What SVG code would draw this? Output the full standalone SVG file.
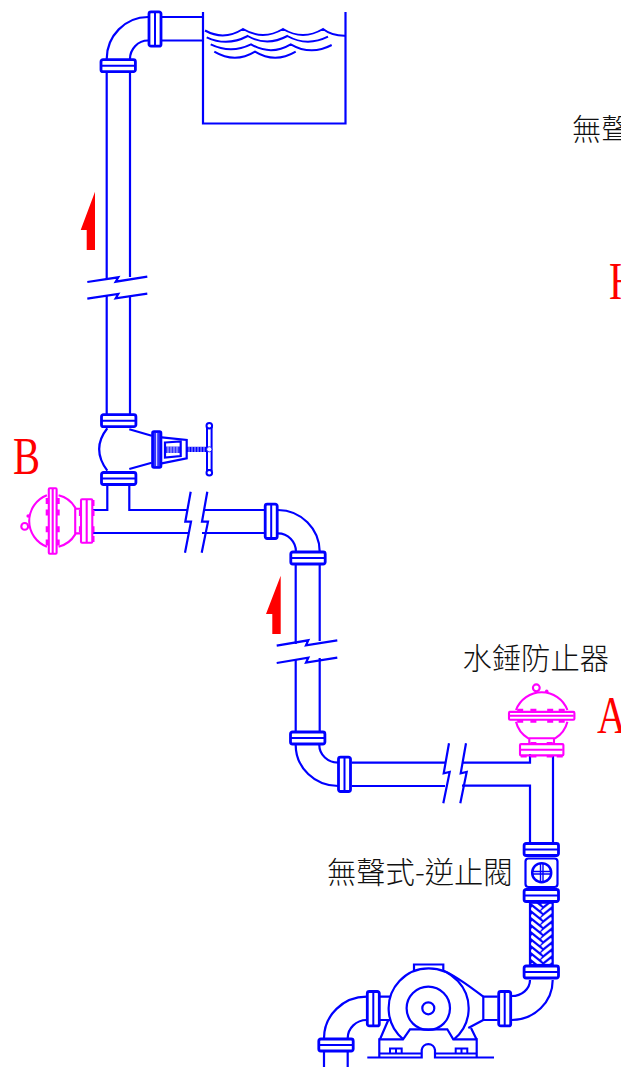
<svg xmlns="http://www.w3.org/2000/svg" xmlns:xlink="http://www.w3.org/1999/xlink" width="621" height="1068" viewBox="0 0 621 1068">
<style>
.p{fill:none;stroke:#0000ff;stroke-width:2.2}
.pt{fill:none;stroke:#0000ff;stroke-width:2}
.m{fill:none;stroke:#ff00ff;stroke-width:2.1}
.mf{fill:#ff00ff}
.arrow{fill:#ff0000}
.cjk{font-family:"Noto Sans CJK TC","Noto Sans CJK SC",sans-serif;font-size:29.3px;font-weight:300;fill:#111}
.ltr{font-family:"Liberation Serif",serif;font-size:52px;fill:#ff0000}
</style>
<defs>
<g id="fl">
<rect x="-17.200" y="-6" width="34.400" height="12" rx="2" fill="#fff" stroke="#0000ff" stroke-width="2.800"/>
<line x1="-17" x2="17" y1="0" y2="0" stroke="#0000ff" stroke-width="2"/>
</g>
<g id="device">
<path class="m" d="M-25.700-5.800A27.500 27.500 0 0 1 25.700-5.800M-25.700 5.900A26.500 26.500 0 0 0-13.400 22.500H13.400A26.500 26.500 0 0 0 25.700 5.900M-12.400 22.500V28M12.300 22.500V28"/>
<circle class="m" cx="-5.400" cy="-28" r="3.400"/>
<circle class="mf" cx="5" cy="-24.500" r="1.800"/>
<path class="mf" d="M-24.500-7h6v3h-6zM-11.300-7h6v3h-6zM5.500-7h6v3h-6zM17-7h6v3h-6zM-24.500 4h6v3h-6zM-11.300 4h6v3h-6zM5.500 4h6v3h-6zM17 4h6v3h-6z"/>
<rect class="m" x="-32.700" y="-3.900" width="65.400" height="7.800" rx="1"/>
<line class="m" x1="-32" x2="32" y1="0" y2="0"/>
<path class="mf" d="M-11.300 26.200h6v2.500h-6zM5 26.200h6v2.500h-6zM-21 39.300h6v2.500h-6zM-11.300 39.300h6v2.500h-6zM5 39.300h6v2.500h-6zM15 39.300h6v2.500h-6z"/>
<rect class="m" x="-21.700" y="28.300" width="43.400" height="11.300" rx="1"/>
<line class="m" x1="-21" x2="21" y1="34" y2="34"/>
</g>
<pattern id="braid" patternUnits="userSpaceOnUse" x="530" y="902" width="22.700" height="14">
<rect width="22.700" height="14" fill="#0000ff"/>
<path d="M1-8L11 0M1-1L11 7M1 6L11 14M1 13L11 21M12 3L22-5M12 10L22 2M12 17L22 9M12 24L22 16" stroke="#fff" stroke-width="3.300" fill="none"/>
</pattern>
</defs>

<g id="connectors">
<path class="p" d="M162 17H203M162 40.500H203"/>
<path class="p" d="M148 17A41.500 42 0 0 0 106.700 59M148 40.500A18 18.500 0 0 0 130 59"/>
<path class="p" d="M106.700 72V280M130 72V277M106.700 296V414M130 296V414"/>
<path class="p" d="M87.300 282L118.300 277.300L115.700 281.700L147.300 276.700M87.300 298.700L118.300 294L115.700 298.300L147.300 293.700"/>
<path class="p" d="M107.300 485V510H92M129.300 485V510H187M92 533H189M204 510H264M202 533H264"/>
<path class="p" d="M190.700 491.700L185.300 521.700H191L185 552.700M207.300 491.700L202 521.700H208L201.700 552.700"/>
<path class="p" d="M278 510A42 42 0 0 1 319.700 551.700M278 533.300A18 18.500 0 0 1 296 551.700"/>
<path class="p" d="M295.700 565V644M319.700 565V641M295.700 660V731M319.700 658V731"/>
<path class="p" d="M276.700 645.700L308.300 640.300L306 645.300L337.300 640.300M276.700 663L308.300 657.700L306 662.700L337.300 657.700"/>
<path class="p" d="M295.700 745A42.600 41 0 0 0 338.300 786M319.300 745A19 17.700 0 0 0 338.300 762.700"/>
<path class="p" d="M351.700 762.700H446M351.700 786H445M463 762.700H530V754M462 785.700H530V843M553 755V843"/>
<path class="p" d="M449 743.300L443.700 773.300L449.700 772L443.300 803.300M466 743.300L460.700 773.300L466.700 772L460.300 803.300"/>
<path class="p" d="M552.700 980A41 40 0 0 1 511.700 1020M530 980A18.300 16 0 0 1 511.700 996"/>
<path class="p" d="M366.700 996.700A42.700 41.600 0 0 0 324 1038.300M366.700 1020A19 18.300 0 0 0 347.700 1038.300"/>
<path class="p" d="M324 1051V1067M347.700 1051V1067"/>
</g>

<g id="tank">
<path class="p" d="M203 12V123.500H345.500V12"/>
<path class="pt" d="M205 30.500Q224 41 243 29Q263 41 283 29Q303 41 323 29Q332 36 345.500 35.700M206.700 37.300Q227 47 247.700 36Q267 47 287.300 36Q307 47 328 36.700M210.700 44.300Q231 54 251 44.300Q271 56 290.700 44.300Q311 56 331.700 45M214.300 51.700Q235 64 255 51.700Q275 64 295.700 51.700"/>
</g>

<g id="flanges">
<use xlink:href="#fl" href="#fl" transform="translate(155 29) rotate(90)"/>
<use xlink:href="#fl" href="#fl" transform="translate(118.200 65.700)"/>
<use xlink:href="#fl" href="#fl" transform="translate(118.700 420.700)"/>
<use xlink:href="#fl" href="#fl" transform="translate(118.700 478.500)"/>
<use xlink:href="#fl" href="#fl" transform="translate(271.200 521.300) rotate(90)"/>
<use xlink:href="#fl" href="#fl" transform="translate(308 558)"/>
<use xlink:href="#fl" href="#fl" transform="translate(307.700 738)"/>
<use xlink:href="#fl" href="#fl" transform="translate(344.500 774.300) rotate(90)"/>
<use xlink:href="#fl" href="#fl" transform="translate(541.300 849.500)"/>
<use xlink:href="#fl" href="#fl" transform="translate(541.300 895.500)"/>
<use xlink:href="#fl" href="#fl" transform="translate(541.300 972)"/>
<use xlink:href="#fl" href="#fl" transform="translate(504.700 1008.700) rotate(90)"/>
<use xlink:href="#fl" href="#fl" transform="translate(373.300 1008.700) rotate(90)"/>
<use xlink:href="#fl" href="#fl" transform="translate(336 1045)"/>
</g>

<g id="gate-valve">
<path class="p" d="M107.300 428.300Q91 449 107.300 470.700M129.300 429.300L151.700 435.700M129.300 469L151.700 462.700"/>
<path class="p" d="M161.700 437.300L186.700 440V458.300L161.700 463.300"/>
<rect x="152.500" y="431.500" width="8.500" height="36" rx="1.500" fill="#3333ff" stroke="#0000ff" stroke-width="2.600"/>
<line x1="156.700" x2="156.700" y1="433" y2="466" stroke="#ffffff" stroke-width="1"/>
<path fill="none" stroke="#0000ff" stroke-width="2.200" d="M165 442.500L180.700 441.500V456L165 457.500Z"/>
<rect x="166" y="446.500" width="14" height="6.500" fill="#0000ff" opacity=".8"/>
<rect x="187" y="446.800" width="20" height="5.200" fill="#0000ff"/>
<path stroke="#fff" stroke-width=".7" d="M189 447v5M192 447v5M195 447v5M198 447v5M201 447v5M204 447v5"/>
<path stroke="#fff" stroke-width=".7" d="M168 446.500v6.500M171 446.500v6.500M174 446.500v6.500M177 446.500v6.500"/>
<rect x="207" y="427" width="4.600" height="43" fill="#fff" stroke="#0000ff" stroke-width="2"/>
<circle cx="209.300" cy="425.700" r="2.800" fill="#fff" stroke="#0000ff" stroke-width="2"/>
<circle cx="209.300" cy="472.700" r="2.800" fill="#fff" stroke="#0000ff" stroke-width="2"/>
<circle cx="209.300" cy="449.300" r="2.600" fill="#fff" stroke="#0000ff" stroke-width=".8"/>
</g>

<g id="arrestor-b">
<use xlink:href="#device" href="#device" transform="translate(52.700 521) rotate(-90)"/>
</g>
<g id="arrestor-a">
<use xlink:href="#device" href="#device" transform="translate(541.700 715.800)"/>
</g>

<g id="check-valve">
<rect class="p" x="525.500" y="858.500" width="32" height="28.500" rx="3"/>
<circle cx="541.700" cy="872.700" r="9.500" fill="none" stroke="#0000ff" stroke-width="2.500"/>
<path stroke="#0000ff" stroke-width="1.400" d="M532.500 871.500H551M532.500 874H551M540.500 863.500V882M543 863.500V882"/>
</g>

<g id="hose">
<rect x="530" y="902.700" width="22.700" height="62.300" fill="url(#braid)" stroke="#0000ff" stroke-width="2.200"/>
</g>

<g id="pump">
<path class="p" d="M497.700 996.700H483.300V1020H497.700M380 996.700H390M380 1020H390"/>
<path class="p" d="M414 970.700V964.500H443.300V970.700"/>
<path class="p" d="M403.300 1039.300A40 40 0 1 1 454 1039.300"/>
<path class="p" d="M443.300 970.700Q455 975 483.300 996.700M483.300 1020L468.300 1028"/>
<circle class="p" cx="428.300" cy="1008.300" r="21.700"/>
<circle class="p" cx="428.300" cy="1008.300" r="6"/>
<path class="p" d="M388.300 1020L380 1039.300M471 1028L476.500 1039.300"/>
<path class="p" d="M379.300 1057.700V1039.300H403L410 1029.300H447.300L453.300 1039.300H476.700V1057.700"/>
<path class="p" d="M367.300 1057.500H421.700V1050A6.700 6.700 0 0 1 435 1050V1057.500H494M379.300 1053.500H421.700M435 1053.500H476.700"/>
<path class="pt" d="M390 1053.300V1048.500H401.700V1053.300M396 1048.500V1053.300M455.700 1053.300V1048.500H467.300V1053.300M461.500 1048.500V1053.300"/>
</g>

<g id="arrows">
<polygon class="arrow" points="95,191.700 80.700,230 86.700,230 86.700,250 95,250"/>
<polygon class="arrow" points="280.700,575.700 266,614 272.300,614 272.300,634 280.700,634"/>
</g>

<g id="labels">
<text class="cjk" x="572" y="140">無聲</text>
<text class="cjk" x="462.500" y="669">水錘防止器</text>
<text class="cjk" x="327" y="883">無聲式-逆止閥</text>
<text class="ltr" transform="translate(13 474) scale(.78 1)">B</text>
<text class="ltr" transform="translate(597 733) scale(.78 1)">A</text>
<text class="ltr" transform="translate(609 299) scale(.78 1)">H</text>
</g>
</svg>
